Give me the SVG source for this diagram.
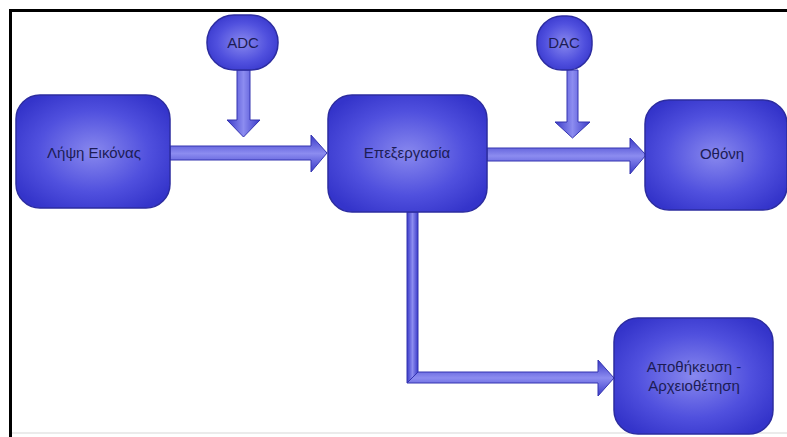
<svg xmlns="http://www.w3.org/2000/svg" width="787" height="437" viewBox="0 0 787 437">
<style>
.node{fill:url(#ng);stroke:#2c2ca0;stroke-width:1.5}
.lbl{font-family:"Liberation Sans",Arial,sans-serif;font-size:15px;fill:#1c1c55;text-anchor:middle}
.ah{stroke:#3434b0;stroke-width:1;stroke-linejoin:miter}
.h{fill:url(#gh)}
.v{fill:url(#gv)}
</style>
<defs>
<radialGradient id="ng" cx="0.5" cy="0.5" r="0.6">
<stop offset="0" stop-color="#8888ee"/>
<stop offset="0.6" stop-color="#5050de"/>
<stop offset="1" stop-color="#3434ca"/>
</radialGradient>
<linearGradient id="gh" x1="0" y1="0" x2="0" y2="1">
<stop offset="0" stop-color="#3a3ac8"/>
<stop offset="0.5" stop-color="#8c8cf0"/>
<stop offset="1" stop-color="#3a3ac8"/>
</linearGradient>
<linearGradient id="gv" x1="0" y1="0" x2="1" y2="0">
<stop offset="0" stop-color="#3a3ac8"/>
<stop offset="0.5" stop-color="#8c8cf0"/>
<stop offset="1" stop-color="#3a3ac8"/>
</linearGradient>
</defs>
<rect x="0" y="0" width="787" height="437" fill="#ffffff"/>
<path d="M10.5 437 V10.5 H787" fill="none" stroke="#000" stroke-width="3"/>
<line x1="12" y1="433" x2="787" y2="433" stroke="#e4e4e4" stroke-width="1.5"/>
<g id="connectors">
<polygon class="ah v" points="237,70 250,70 250,120 260,120 243.5,137 227,120 237,120"/>
<polygon class="ah h" points="170,146 311,146 311,135 327,153 311,172 311,160 170,160"/>
<polygon class="ah v" points="567,70 578,70 578,122 590,122 572.5,138 555,122 567,122"/>
<polygon class="ah h" points="487,148 630,148 630,138 646,155 630,174 630,161 487,161"/>
<polygon class="ah v" points="407,212 418,212 418,372 407,383"/>
<polygon class="ah h" points="407,383 418,372 598,372 598,360 614,378 598,396 598,383"/>
</g>
<g id="n_adc">
<rect class="node" x="207" y="15" width="71" height="55" rx="27" ry="27"/>
<text class="lbl" x="243" y="48">ADC</text>
</g>
<g id="n_dac">
<rect class="node" x="537" y="16" width="55" height="54" rx="25" ry="25"/>
<text class="lbl" x="564" y="48">DAC</text>
</g>
<g id="n_lipsi">
<rect class="node" x="16" y="95" width="154" height="113" rx="24" ry="24"/>
<text class="lbl" x="94" y="158">Λήψη Εικόνας</text>
</g>
<g id="n_epex">
<rect class="node" x="328" y="95" width="159" height="117" rx="24" ry="24"/>
<text class="lbl" x="407" y="158">Επεξεργασία</text>
</g>
<g id="n_othoni">
<rect class="node" x="645" y="100" width="142" height="110" rx="24" ry="24"/>
<text class="lbl" x="722" y="159">Οθόνη</text>
</g>
<g id="n_apoth">
<rect class="node" x="614" y="318" width="159" height="116" rx="24" ry="24"/>
<text class="lbl" x="694" y="372">Αποθήκευση -</text>
<text class="lbl" x="694" y="391">Αρχειοθέτηση</text>
</g>
</svg>
